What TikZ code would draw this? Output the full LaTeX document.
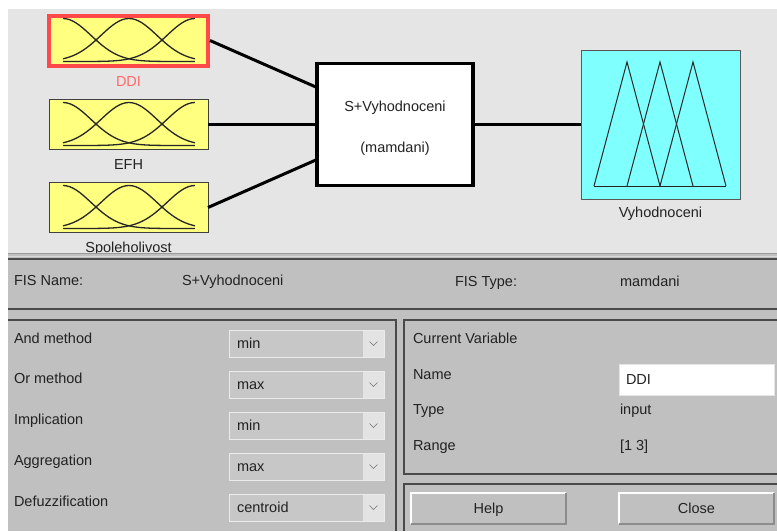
\documentclass[tikz,border=0pt]{standalone}
\usepackage{fontspec}
\setmainfont{Liberation Sans}
\usetikzlibrary{positioning}
\definecolor{paneltop}{HTML}{E5E5E5}
\definecolor{panelbot}{HTML}{C0C0C0}
\definecolor{mfyellow}{HTML}{FFFF80}
\definecolor{mfcyan}{HTML}{80FFFF}
\definecolor{selred}{HTML}{FF4848}
\definecolor{sellbl}{HTML}{FF6A6A}
\definecolor{etch}{HTML}{4A4A4A}
\definecolor{txt}{HTML}{222222}
\definecolor{combo}{HTML}{C7C7C7}
\definecolor{comboarrow}{HTML}{E3E3E3}

\begin{document}
\begin{tikzpicture}[x=1pt,y=-1pt,
      every node/.style={inner sep=0pt,outer sep=0pt,text=txt,
                         font=\fontsize{14.5}{17}\selectfont},
      captext/.style={text height=10pt,text depth=0pt},
      lbl/.style={captext,anchor=west},
      inbox/.style={rectangle,draw=black!75,line width=1pt,fill=mfyellow,
                    minimum width=159pt,minimum height=50pt},
      selected/.style={draw=selred,line width=4pt},
      fisbox/.style={rectangle,draw=black,line width=3.5pt,fill=white,
                     minimum width=156pt,minimum height=122pt},
      outbox/.style={rectangle,draw=black!65,line width=1pt,fill=mfcyan,
                     minimum width=159pt,minimum height=149pt},
      wire/.style={draw=black,line width=3pt},
      mf/.style={draw=black!85,line width=1.3pt},
      etched/.style={draw=etch,line width=1.2pt},
      combobox/.style={rectangle,draw=black!8,fill=combo,anchor=west,
                       minimum width=155pt,minimum height=27pt},
      chev/.style={draw=black!55,line width=0.6pt},
      button/.style={rectangle,fill=panelbot,captext,
                     minimum width=155pt,minimum height=31pt},
    ]
      \useasboundingbox (0,0) rectangle (777,531);
      \fill[white] (0,0) rectangle (777,531);
      \fill[paneltop] (8,9) rectangle (777,253);

      \node[inbox,selected] (ddi) at (128.5,40.5) {};
      \node[inbox, below=34pt of ddi] (efh) {};
      \node[inbox, below=33pt of efh] (spol) {};
      \node[fisbox, right=109pt of efh] (fis) {};
      \node[outbox, right=108pt of fis] (out) {};

      \node[captext,text=sellbl, below=10.5pt of ddi] (ddilbl) {DDI};
      \node[captext, below=10pt of efh] (efhlbl) {EFH};
      \node[captext, below=10pt of spol] (spollbl) {Spoleholivost};
      \node[captext, below=8pt of out] (outlbl) {Vyhodnoceni};
      \node[captext] (fistitle) at ([yshift=18pt]fis.center) {S+Vyhodnoceni};
      \node[captext] (fiskind) at ([yshift=-23pt]fis.center) {(mamdani)};

      \foreach \v in {ddi,efh,spol}{
        \begin{scope}[shift={(\v.south west)}]
          \foreach \c in {0,0.5,1}
            \draw[mf] plot[domain=0:1,samples=41]
              ({14+132*\x},{-4-43*exp(-(\x-\c)*(\x-\c)/0.0901)});
        \end{scope}
      }
      \begin{scope}[shift={(out.south west)}]
        \foreach \i in {0,1,2}
          \draw[mf,line width=1pt] ({13+33*\i},-13) -- ({46+33*\i},-137) -- ({79+33*\i},-13);
        \draw[mf,line width=1pt] (13,-13) -- (145,-13);
      \end{scope}

      \path([xshift=2pt]ddi.east) edge[wire] ([yshift=37pt]fis.west);
      \path(efh.east) edge[wire] (fis.west);
      \path(spol.east) edge[wire] ([yshift=-35pt]fis.west);
      \path(fis.east) edge[wire] (out.west);

      \fill[panelbot] (8,254) rectangle (777,531);
      \draw[draw=black!40,line width=1.5pt] (8,253.5) -- (777,253.5);
      \draw[draw=white!85!black,line width=1pt] (8,256) -- (777,256);
      \draw[etched] (8,259) -- (777,259);
      \draw[etched] (8,309) -- (777,309);
      \draw[etched] (8,320) -- (396,320) -- (396,531);
      \draw[etched] (777,320) -- (404,320) -- (404,474) -- (777,474);
      \draw[etched] (404,531) |- (777,484);

      \node[lbl] (fisnamelbl) at (14,280) {FIS Name:};
      \node[lbl] (fisnameval) at (182,280) {S+Vyhodnoceni};
      \node[lbl] (fistypelbl) at (455,281) {FIS Type:};
      \node[lbl] (fistypeval) at (620,281) {mamdani};

      \foreach \lab/\val [count=\i from 0] in {And method/min,Or method/max,
          Implication/min,Aggregation/max,Defuzzification/centroid}{
        \node[lbl] (meth\i) at (14,{338+40.8*\i}) {\lab};
        \node[combobox] (combo\i) at (229,{343.5+41*\i}) {};
        \fill[comboarrow] ([shift={(-0.5pt,-0.5pt)}]combo\i.north east)
          rectangle ([xshift=-21pt,yshift=0.5pt]combo\i.south east);
        \draw[chev] ([xshift=-14.5pt,yshift=2pt]combo\i.east)
          -- ([xshift=-10.5pt,yshift=-2pt]combo\i.east)
          -- ([xshift=-6.5pt,yshift=2pt]combo\i.east);
        \node[lbl] (comboval\i) at ([xshift=8pt]combo\i.west) {\val};
      }

      \node[lbl] (curvar) at (413,338) {Current Variable};
      \node[lbl] (namelbl) at (413,374) {Name};
      \node[lbl] (typelbl) at (413,409.5) {Type};
      \node[lbl] (rangelbl) at (413,445) {Range};
      \node[rectangle,fill=white,draw=black!10,anchor=west,
            minimum width=155pt,minimum height=31pt] (namebox) at (619,379.5) {};
      \node[lbl] (nameval) at ([xshift=7pt]namebox.west) {DDI};
      \node[lbl] (typeval) at (620,409.5) {input};
      \node[lbl] (rangeval) at (620,445) {[1 3]};

      \node[button] (help) at (488.5,508.5) {Help};
      \node[button] (close) at (696.5,508.5) {Close};
      \foreach \b in {help,close}{
        \draw[white,line width=1.2pt] (\b.south west) |- (\b.north east);
        \draw[black!45,line width=1.2pt] (\b.north east) |- (\b.south west);
      }
    \end{tikzpicture}
\end{document}
